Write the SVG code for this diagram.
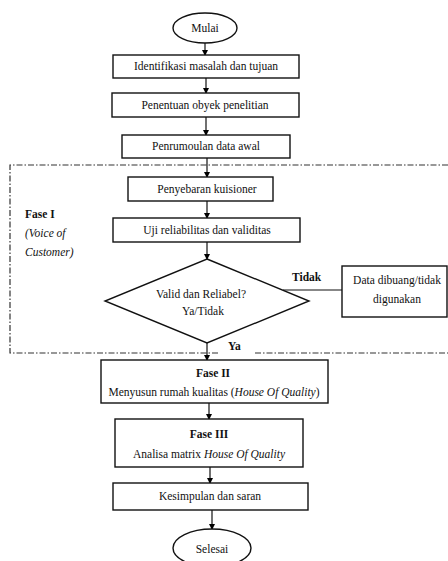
<svg xmlns="http://www.w3.org/2000/svg" width="448" height="561" viewBox="0 0 448 561" font-family="'Liberation Serif', 'Times New Roman', serif">
<defs>
<marker id="ah" markerWidth="6" markerHeight="6" refX="5" refY="3" orient="auto" markerUnits="userSpaceOnUse">
<path d="M0,0 L6,3 L0,6 Z" fill="#000"/>
</marker>
<style>
.b{fill:#fff;stroke:#111;stroke-width:1.4}
.t{font-family:'Liberation Serif','Times New Roman',serif;font-size:11.5px;fill:#111;text-anchor:middle}
.l{font-family:'Liberation Serif','Times New Roman',serif;font-size:11.5px;fill:#111}
.bd{font-weight:bold}
.c{stroke:#111;stroke-width:1.2;fill:none}
.d{stroke:#333;stroke-width:1.2;fill:none;stroke-dasharray:6 2 1.5 2}
</style>
</defs>
<rect width="448" height="561" fill="#fff"/>
<g id="fase1-frame">
<path class="d" d="M448,165 H10 V353 H219"/>
<path class="d" d="M255,353 H448"/>
<text class="l bd" x="25" y="218">Fase I</text>
<text class="l" x="25" y="237" font-style="italic">(Voice of</text>
<text class="l" x="25" y="256" font-style="italic">Customer)</text>
</g>
<g id="connectors">
<line class="c" x1="205" y1="43" x2="205" y2="55" marker-end="url(#ah)"/>
<line class="c" x1="206" y1="78" x2="206" y2="93" marker-end="url(#ah)"/>
<line class="c" x1="206" y1="117" x2="206" y2="135" marker-end="url(#ah)"/>
<line class="c" x1="207" y1="158" x2="207" y2="177" marker-end="url(#ah)"/>
<line class="c" x1="207" y1="201" x2="207" y2="218" marker-end="url(#ah)"/>
<line class="c" x1="207" y1="242" x2="207" y2="259" marker-end="url(#ah)"/>
<line class="c" x1="283" y1="290" x2="342" y2="290"/>
<line class="c" x1="207" y1="343" x2="207" y2="360" marker-end="url(#ah)"/>
<line class="c" x1="209" y1="403" x2="209" y2="419" marker-end="url(#ah)"/>
<line class="c" x1="210" y1="467" x2="210" y2="483" marker-end="url(#ah)"/>
<line class="c" x1="212" y1="510" x2="212" y2="529" marker-end="url(#ah)"/>
<text class="l bd" x="292" y="281">Tidak</text>
<text class="l bd" x="228" y="350">Ya</text>
</g>
<g id="mulai">
<ellipse class="b" cx="205" cy="28" rx="32" ry="15"/>
<text class="t" x="205" y="32">Mulai</text>
</g>
<g id="identifikasi">
<rect class="b" x="113" y="55" width="186" height="23"/>
<text class="t" x="206" y="70">Identifikasi masalah dan tujuan</text>
</g>
<g id="penentuan">
<rect class="b" x="112" y="93" width="187" height="24"/>
<text class="t" x="205" y="109">Penentuan obyek penelitian</text>
</g>
<g id="perumusan">
<rect class="b" x="122" y="135" width="168" height="23"/>
<text class="t" x="206" y="150">Penrumoulan data awal</text>
</g>
<g id="penyebaran">
<rect class="b" x="128" y="177" width="145" height="24"/>
<text class="t" x="207" y="193">Penyebaran kuisioner</text>
</g>
<g id="uji">
<rect class="b" x="113" y="218" width="187" height="24"/>
<text class="t" x="207" y="234">Uji reliabilitas dan validitas</text>
</g>
<g id="valid">
<polygon class="b" points="207,259 309,301 207,343 105,301"/>
<text class="t" x="201" y="298" font-size="11">Valid dan Reliabel?</text>
<text class="t" x="203" y="315" font-size="11">Ya/Tidak</text>
</g>
<g id="dibuang">
<rect class="b" x="342" y="266" width="105" height="51"/>
<text class="t" x="397" y="284" font-size="11">Data dibuang/tidak</text>
<text class="t" x="397" y="303" font-size="11">digunakan</text>
</g>
<g id="fase2">
<rect class="b" x="101" y="360" width="227" height="43"/>
<text class="t bd" x="213" y="377">Fase II</text>
<text class="t" x="214" y="396">Menyusun rumah kualitas (<tspan font-style="italic">House Of Quality</tspan>)</text>
</g>
<g id="fase3">
<rect class="b" x="115" y="419" width="188" height="48"/>
<text class="t bd" x="209" y="438">Fase III</text>
<text class="t" x="209" y="458">Analisa matrix <tspan font-style="italic">House Of Quality</tspan></text>
</g>
<g id="kesimpulan">
<rect class="b" x="113" y="483" width="195" height="27"/>
<text class="t" x="210" y="500">Kesimpulan dan saran</text>
</g>
<g id="selesai">
<ellipse class="b" cx="212" cy="548" rx="39" ry="19"/>
<text class="t" x="212" y="553">Selesai</text>
</g>
</svg>
